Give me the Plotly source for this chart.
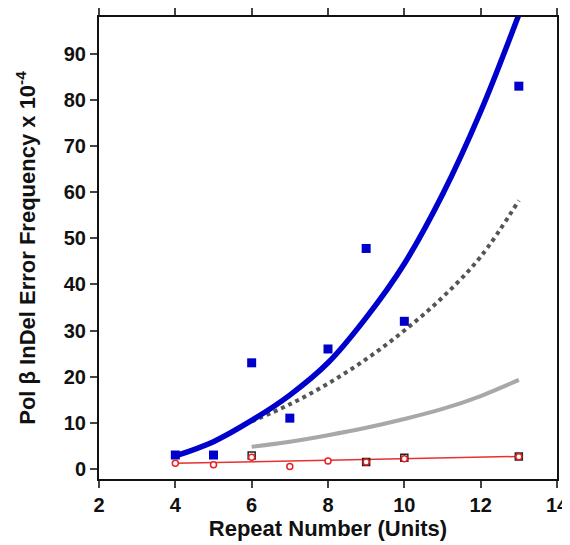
import plotly.graph_objects as go

# Observed Pol beta InDel error frequencies (x 10^-4)
blue_x = [4, 5, 6, 7, 8, 9, 10, 13]
blue_y = [3.0, 3.0, 23.0, 11.0, 26.0, 47.8, 32.0, 83.0]

# Fitted curve
blue_fit_x = [4, 5, 6, 7, 8, 9, 10, 11, 12, 13]
blue_fit_y = [2.8, 5.9, 10.5, 16.0, 23.0, 32.8, 44.5, 59.5, 77.5, 98.5]

dark_fit_x = [6, 7, 8, 9, 10, 11, 12, 13]
dark_fit_y = [10.3, 14.0, 18.5, 23.8, 30.0, 37.2, 46.0, 58.2]

light_fit_x = [6, 7, 8, 9, 10, 11, 12, 13]
light_fit_y = [4.8, 5.9, 7.3, 8.9, 10.8, 13.0, 15.8, 19.3]

black_x = [6, 9, 10, 13]
black_y = [2.9, 1.5, 2.4, 2.7]

red_x = [4, 5, 6, 7, 8, 9, 10, 13]
red_y = [1.2, 0.9, 2.5, 0.5, 1.7, 1.5, 2.2, 2.6]

red_fit_x = [4, 13]
red_fit_y = [1.2, 2.7]

x_ticks = [2, 4, 6, 8, 10, 12, 14]
y_ticks = [0, 10, 20, 30, 40, 50, 60, 70, 80, 90]

fig = go.Figure()
fig.add_trace(go.Scatter(x=light_fit_x, y=light_fit_y, mode="lines",
                         line=dict(color="#a8a8a8", width=4, shape="spline")))
fig.add_trace(go.Scatter(x=dark_fit_x, y=dark_fit_y, mode="lines",
                         line=dict(color="#555555", width=4, dash="dot", shape="spline")))
fig.add_trace(go.Scatter(x=blue_fit_x, y=blue_fit_y, mode="lines",
                         line=dict(color="#0000cc", width=5.5, shape="spline")))
fig.add_trace(go.Scatter(x=blue_x, y=blue_y, mode="markers",
                         marker=dict(symbol="square", size=9, color="#0000cc")))
fig.add_trace(go.Scatter(x=red_fit_x, y=red_fit_y, mode="lines",
                         line=dict(color="#e83030", width=1.5)))
fig.add_trace(go.Scatter(x=black_x, y=black_y, mode="markers",
                         marker=dict(symbol="square-open", size=7, color="#222222",
                                     line=dict(width=1.5))))
fig.add_trace(go.Scatter(x=red_x, y=red_y, mode="markers",
                         marker=dict(symbol="circle", size=6, color="white",
                                     line=dict(color="#e82020", width=1.5))))

font = dict(family="Liberation Sans, Arial, sans-serif", color="#111111", weight="bold")

# page body has an 8px margin, so the figure is sized/offset to compensate
fig.update_layout(
    width=562, height=537,
    margin=dict(l=91, r=13, t=9, b=66, autoexpand=False),
    paper_bgcolor="white", plot_bgcolor="white",
    showlegend=False,
    font=font,
    xaxis=dict(range=[2, 14], tickvals=x_ticks, ticks="outside", ticklen=7, tickwidth=2,
               showline=True, linewidth=2, linecolor="#111111", mirror="ticks",
               showgrid=False, zeroline=False, automargin=False,
               tickfont=dict(size=20, **font),
               title=dict(text="Repeat Number (Units)", font=dict(size=22, **font), standoff=4)),
    yaxis=dict(range=[-2.2, 98], tickvals=y_ticks, ticks="outside", ticklen=7, tickwidth=2,
               showline=True, linewidth=2, linecolor="#111111", mirror=True,
               showgrid=False, zeroline=False, automargin=False,
               tickfont=dict(size=20, **font),
               title=dict(text="Pol β InDel Error Frequency x 10<sup>-4</sup>",
                          font=dict(size=22, **font), standoff=22)),
)

fig.write_html("out.html")
